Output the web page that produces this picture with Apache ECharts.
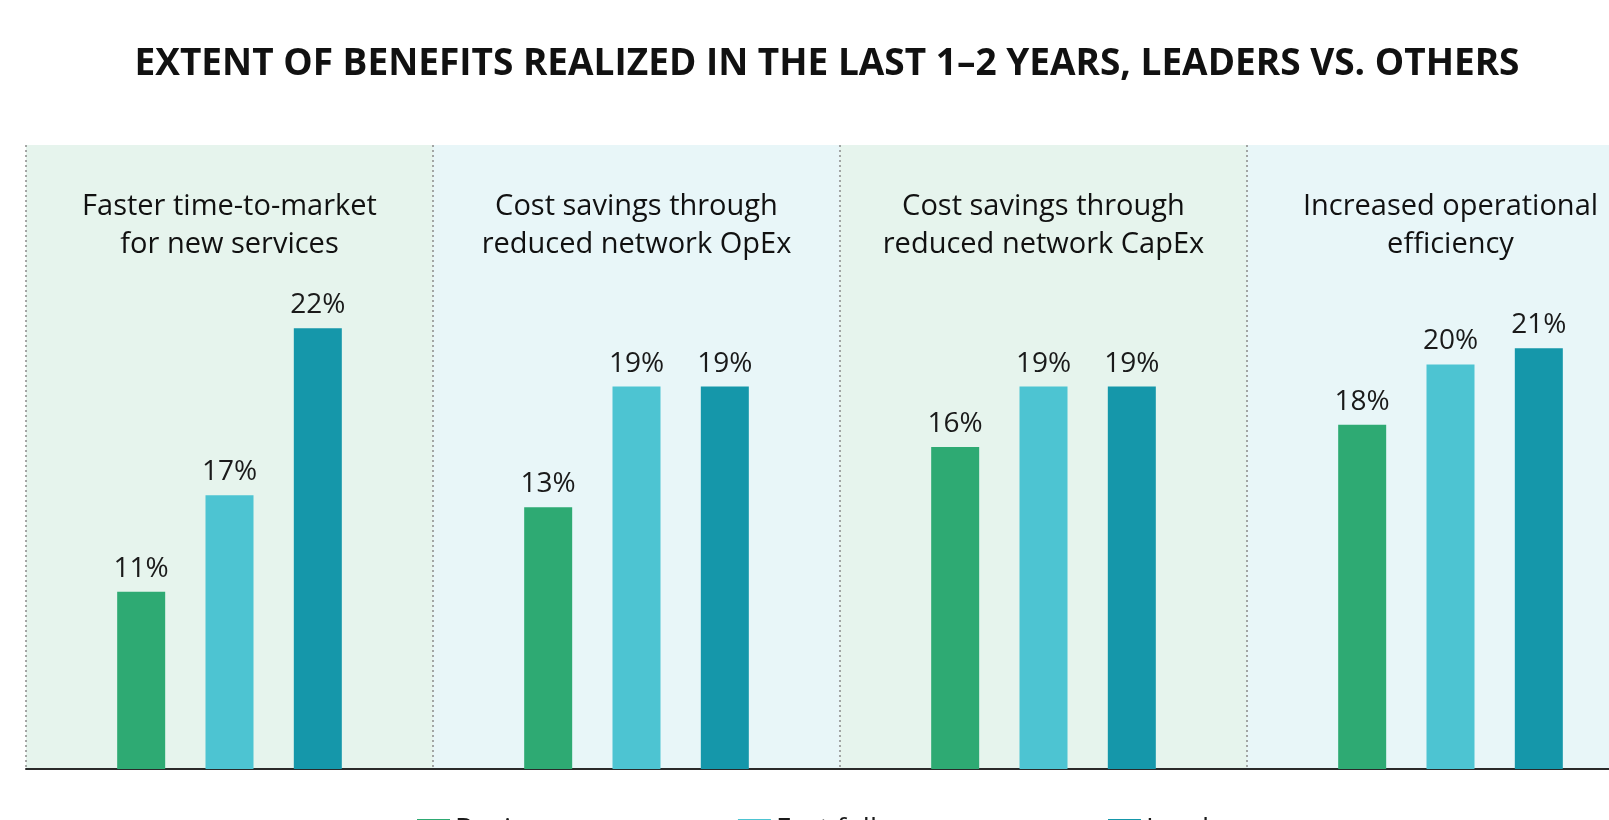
<!DOCTYPE html>
<html>
<head>
<meta charset="utf-8">
<script src="https://cdn.jsdelivr.net/npm/echarts@6/dist/echarts.min.js"></script>
<style>
  html, body { margin: 0; padding: 0; background: #ffffff; }
  #chart { width: 1609px; height: 820px; }
</style>
</head>
<body>
<div id="chart"></div>
<script>
// ---- data ----
const chartTitle = 'EXTENT OF BENEFITS REALIZED IN THE LAST 1\u20132 YEARS, LEADERS VS. OTHERS';
const categories = [
  'Faster time-to-market\nfor new services',
  'Cost savings through\nreduced network OpEx',
  'Cost savings through\nreduced network CapEx',
  'Increased operational\nefficiency'
];
const seriesNames = ['Beginners', 'Fast followers', 'Leaders'];
// bar heights as drawn in the reference (percent)
const beginners = [8.8, 13.0, 16.0, 17.1];
const fastFollowers = [13.6, 19.0, 19.0, 20.1];
const leaders = [21.9, 19.0, 19.0, 20.9];
// printed value labels
const beginnersLabels = ['11%', '13%', '16%', '18%'];
const fastFollowersLabels = ['17%', '19%', '19%', '20%'];
const leadersLabels = ['22%', '19%', '19%', '21%'];

const colors = ['#2eaa73', '#4dc4d2', '#1597aa'];
const FONT = '"Open Sans", "Noto Sans", sans-serif';

const chart = echarts.init(document.getElementById('chart'), null, { renderer: 'canvas' });

function makeSeries(name, values, labels, color) {
  return {
    name: name,
    type: 'bar',
    xAxisIndex: 0,
    yAxisIndex: 0,
    data: values,
    barWidth: 48,
    barGap: '84%',
    itemStyle: { color: color },
    label: {
      show: true,
      position: 'top',
      distance: 9,
      fontFamily: FONT,
      fontSize: 28,
      color: '#1a1a1a',
      formatter: function (p) { return labels[p.dataIndex]; }
    },
    emphasis: { disabled: true },
    animation: false
  };
}

const option = {
  backgroundColor: '#ffffff',
  animation: false,
  title: {
    text: chartTitle,
    left: 822,
    top: 41,
    textAlign: 'center',
    textStyle: {
      fontFamily: FONT,
      fontSize: 37,
      fontWeight: 'bold',
      color: '#111111'
    }
  },
  legend: {
    data: seriesNames,
    left: 412,
    top: 811,
    itemWidth: 33,
    itemHeight: 22,
    itemGap: 152,
    icon: 'rect',
    textStyle: { fontFamily: FONT, fontSize: 28, color: '#1a1a1a' }
  },
  grid: {
    left: 26,
    top: 145,
    width: 1628,
    bottom: 51,
    containLabel: false,
    outerBoundsMode: 'none'
  },
  xAxis: [
    {
      type: 'category',
      data: categories,
      position: 'bottom',
      boundaryGap: true,
      axisLine: { show: true, lineStyle: { color: '#2a2a2a', width: 2 } },
      axisTick: { show: false },
      axisLabel: { show: false },
      splitLine: { show: true, lineStyle: { type: [2, 3], color: '#8a8a8a', width: 1.5 } },
      splitArea: { show: true, areaStyle: { color: ['#e6f4ed', '#e8f6f8'] } }
    },
    {
      type: 'category',
      data: categories,
      position: 'top',
      boundaryGap: true,
      axisLine: { show: false },
      axisTick: { show: false },
      splitLine: { show: false },
      axisLabel: {
        show: true,
        inside: true,
        margin: 43,
        interval: 0,
        fontFamily: FONT,
        fontSize: 29,
        lineHeight: 38,
        color: '#111111',
        align: 'center'
      }
    }
  ],
  yAxis: {
    type: 'value',
    min: 0,
    max: 31,
    show: false,
    splitLine: { show: false }
  },
  series: [
    makeSeries(seriesNames[0], beginners, beginnersLabels, colors[0]),
    makeSeries(seriesNames[1], fastFollowers, fastFollowersLabels, colors[1]),
    makeSeries(seriesNames[2], leaders, leadersLabels, colors[2])
  ]
};

chart.setOption(option);
</script>
</body>
</html>
